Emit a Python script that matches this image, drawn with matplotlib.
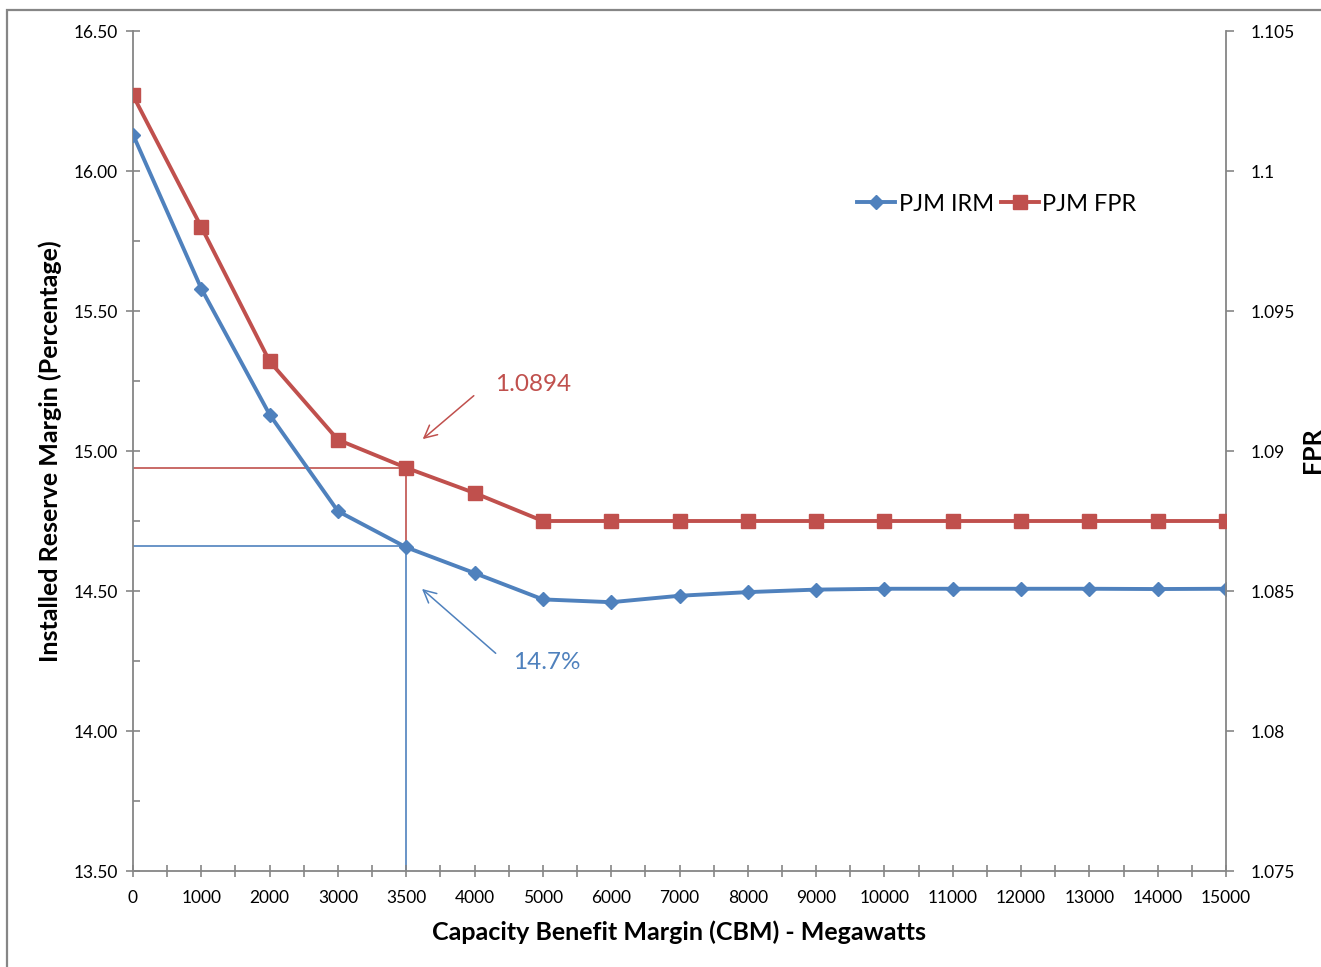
import numpy as np
import matplotlib.pyplot as plt
from matplotlib.patches import Rectangle

# CBM categories (Excel category axis: equally spaced)
cbm = ["0", "1000", "2000", "3000", "3500", "4000", "5000", "6000", "7000",
       "8000", "9000", "10000", "11000", "12000", "13000", "14000", "15000"]
irm = [16.13, 15.58, 15.13, 14.785, 14.656, 14.564, 14.47, 14.46, 14.483,
       14.496, 14.505, 14.508, 14.508, 14.508, 14.508, 14.507, 14.508]
fpr = [1.1027, 1.0980, 1.0932, 1.0904, 1.0894, 1.0885, 1.0875, 1.0875, 1.0875,
       1.0875, 1.0875, 1.0875, 1.0875, 1.0875, 1.0875, 1.0875, 1.0875]

mark_cbm = "3500"
mark_irm = 14.66
mark_fpr = 1.0894

blue = "#4F81BD"
red = "#C0504D"
gray = "#868686"

plt.rcParams['font.family'] = ['Lato', 'DejaVu Sans']

fig = plt.figure(figsize=(13.21, 9.67), dpi=100)
ax = fig.add_axes([133/1321, 1-871/967, (1226-133)/1321, (871-31)/967])
ax2 = ax.twinx()

x = np.arange(len(cbm))
ax.set_xlim(0, len(cbm) - 1)
ax.set_ylim(13.5, 16.5)
ax2.set_ylim(1.075, 1.105)


def fpr_to_left(v):
    return 13.5 + (v - 1.075) / 0.03 * 3.0


xm = cbm.index(mark_cbm)
# guide lines
ax.plot([0, xm], [fpr_to_left(mark_fpr)] * 2, color=red, lw=1.2, zorder=1)
ax.plot([xm, xm], [mark_irm, fpr_to_left(mark_fpr)], color=red, lw=1.2, zorder=1)
ax.plot([0, xm], [mark_irm] * 2, color=blue, lw=1.2, zorder=1)
ax.plot([xm, xm], [13.5, mark_irm], color=blue, lw=1.2, zorder=1)

l1, = ax.plot(x, irm, color=blue, lw=2.8, marker="D", ms=7.5, label="PJM IRM", zorder=3)
l2, = ax2.plot(x, fpr, color=red, lw=2.8, marker="s", ms=10, label="PJM FPR", zorder=3)

# annotations
ax.annotate("", xy=(4.21, 15.036), xytext=(5.02, 15.204),
            arrowprops=dict(arrowstyle="->,head_length=0.9,head_width=0.45", color=red, lw=1.1))
ax.text(5.30, 15.239, "1.0894", color=red, fontsize=17.5, va="center", ha="left")
ax.annotate("", xy=(4.20, 14.514), xytext=(5.34, 14.271),
            arrowprops=dict(arrowstyle="->,head_length=0.9,head_width=0.45", color=blue, lw=1.1))
ax.text(5.56, 14.243, "14.7%", color=blue, fontsize=17.5, va="center", ha="left")

# axes styling
for a in (ax, ax2):
    a.spines["top"].set_visible(False)
    for s in a.spines.values():
        s.set_color(gray)
        s.set_linewidth(1.3)
ax.spines["right"].set_visible(False)
ax2.spines["left"].set_visible(False)
ax2.spines["bottom"].set_visible(False)

ax.set_xticks(x)
ax.set_xticklabels(cbm)
ax.set_xticks(x[:-1] + 0.5, minor=True)
ax.tick_params(axis="x", which="both", direction="inout", length=8, width=1.2,
               color=gray, labelsize=12.5, pad=10)

ax.set_yticks(np.arange(13.5, 16.51, 0.5))
ax.set_yticklabels([f"{v:.2f}" for v in np.arange(13.5, 16.51, 0.5)])
ax.set_yticks(np.arange(13.75, 16.5, 0.5), minor=True)
ax.tick_params(axis="y", which="major", direction="inout", length=10, width=1.2,
               color=gray, labelsize=12.5, pad=6)
ax.tick_params(axis="y", which="minor", direction="in", length=5, width=1.2, color=gray)

r_ticks = [1.075, 1.08, 1.085, 1.09, 1.095, 1.1, 1.105]
ax2.set_yticks(r_ticks)
ax2.set_yticklabels([f"{v:g}" for v in r_ticks])
ax2.tick_params(axis="y", direction="out", length=6, width=1.2, color=gray,
                labelsize=12.5, pad=12)

ax.set_xlabel("Capacity Benefit Margin (CBM) - Megawatts", fontsize=18,
              fontweight="bold", labelpad=10)
ax.set_ylabel("Installed Reserve Margin (Percentage)", fontsize=18,
              fontweight="bold", labelpad=8)
fig.text(1312/1321, 1-450/967, "FPR", rotation=90, fontsize=18,
         fontweight="bold", ha="center", va="center")

fig.legend([l1, l2], ["PJM IRM", "PJM FPR"], loc="center left",
           bbox_to_anchor=(836/1321, 1-204/967), ncol=2, frameon=False,
           fontsize=17, handlelength=1.6, handletextpad=0.15, columnspacing=0.3)

# outer chart border
fig.patches.append(Rectangle((7/1321, -0.05), 1.1, 1-10/967 + 0.05,
                             transform=fig.transFigure, fill=False,
                             edgecolor=gray, lw=1.6))

fig.savefig("out.png", dpi=100)
